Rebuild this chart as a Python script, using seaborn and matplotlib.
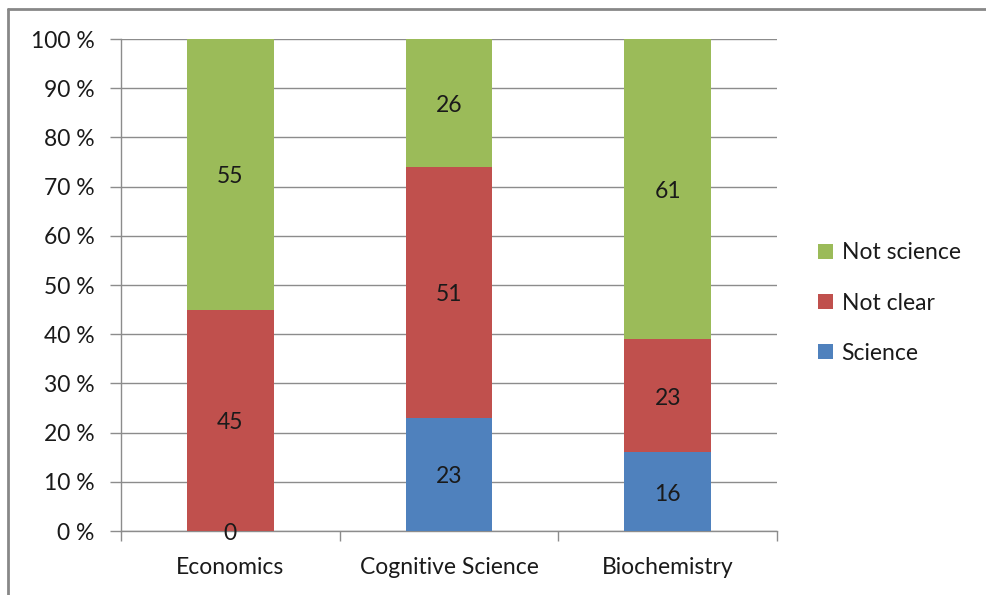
import matplotlib
matplotlib.use("Agg")
import matplotlib.pyplot as plt
import seaborn as sns
import pandas as pd
import numpy as np
from matplotlib.lines import Line2D
from matplotlib.patches import Patch

# Survey shares (percent) per field
categories = ["Economics", "Cognitive Science", "Biochemistry"]
science = [0, 23, 16]
not_clear = [45, 51, 23]
not_science = [55, 26, 61]

series_names = ["Not science", "Not clear", "Science"]
colors = {"Science": "#4F81BD", "Not clear": "#C0504D", "Not science": "#9BBB59"}
y_ticks = [0, 10, 20, 30, 40, 50, 60, 70, 80, 90, 100]

sns.set_theme(style="white")
plt.rcParams["font.family"] = ["Lato", "DejaVu Sans"]

FS = 16.5
TXT = "#1a1a1a"
W, H = 987, 595
fig = plt.figure(figsize=(W / 100, H / 100), dpi=100)
ax = fig.add_axes([121 / W, (H - 531) / H, (777 - 121) / W, (531 - 39) / H])

df = pd.DataFrame({
    "field": categories,
    "Science": science,
    "Not clear": not_clear,
    "Not science": not_science,
})
df["cum_science"] = df["Science"]
df["cum_clear"] = df["Science"] + df["Not clear"]
df["cum_all"] = df["cum_clear"] + df["Not science"]

# Stacked bars drawn as overlapping cumulative layers (tallest first)
bar_w = 0.395
for col, name in [("cum_all", "Not science"), ("cum_clear", "Not clear"), ("cum_science", "Science")]:
    sns.barplot(data=df, x="field", y=col, color=colors[name], width=bar_w,
                saturation=1, ax=ax, zorder=3, linewidth=0)

# Segment value labels
for i in range(len(categories)):
    segs = [(0, df["Science"][i]),
            (df["cum_science"][i], df["Not clear"][i]),
            (df["cum_clear"][i], df["Not science"][i])]
    for base, val in segs:
        ax.text(i, base + val / 2 - 0.5, f"{val}", ha="center", va="center",
                fontsize=FS, color=TXT, zorder=5)

ax.set_xlim(-0.5, 2.5)
ax.set_ylim(0, 100)
ax.set_yticks(y_ticks)
ax.set_yticklabels([f"{t} %" for t in y_ticks])
ax.set_xlabel("")
ax.set_ylabel("")

# Grid and axes styling
ax.yaxis.grid(True, color="#8c8c8c", linewidth=1, zorder=0)
ax.set_axisbelow(True)
for s in ["top", "right"]:
    ax.spines[s].set_visible(False)
ax.spines["left"].set_color("#8c8c8c")
ax.spines["bottom"].set_color("#8c8c8c")
ax.spines["left"].set_linewidth(1)
ax.spines["bottom"].set_linewidth(1)

ax.tick_params(axis="y", which="major", left=True, length=8, width=1, color="#8c8c8c",
               pad=11, labelsize=FS, labelcolor=TXT)
ax.set_xticks([0, 1, 2])
ax.set_xticklabels(categories)
ax.tick_params(axis="x", which="major", length=0, pad=19, labelsize=FS, labelcolor=TXT)
ax.set_xticks([-0.5, 0.5, 1.5, 2.5], minor=True)
ax.tick_params(axis="x", which="minor", bottom=True, length=7, width=1, color="#8c8c8c")

# Legend
handles = [Patch(facecolor=colors[n], edgecolor="none") for n in series_names]
fig.legend(handles, series_names, loc="center left",
           bbox_to_anchor=(797 / W, (H - 303) / H), frameon=False,
           fontsize=FS, handlelength=0.65, handleheight=0.65, handletextpad=0.4,
           labelspacing=1.27, labelcolor=TXT)

# Outer chart border (left and top edges)
fig.add_artist(Line2D([8.5 / W, 8.5 / W], [0, (H - 8.5) / H], transform=fig.transFigure,
                      color="#888888", linewidth=2))
fig.add_artist(Line2D([8.5 / W, 1], [(H - 8.5) / H, (H - 8.5) / H], transform=fig.transFigure,
                      color="#888888", linewidth=2))

fig.savefig("out.png", dpi=100, facecolor="white")
